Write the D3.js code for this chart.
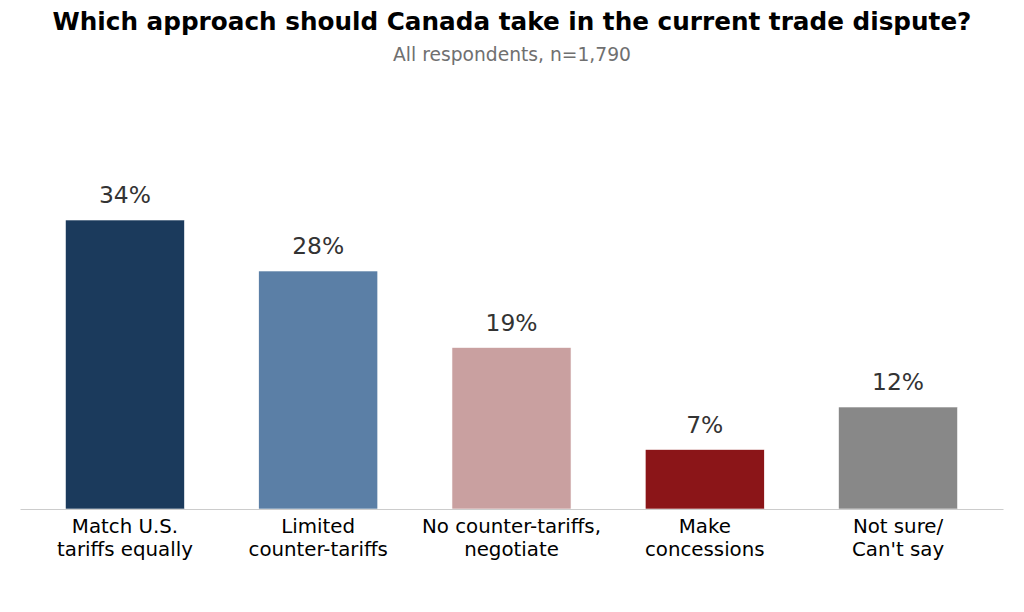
<!DOCTYPE html>
<html>
<head>
<meta charset="utf-8">
<script src="https://cdn.jsdelivr.net/npm/d3@7"></script>
<style>
  body { margin: 0; background: #fff; }
  text { font-family: "DejaVu Sans", sans-serif; }
</style>
</head>
<body>
<div id="chart"></div>
<script>
// data
const categories = ["Match U.S.\ntariffs equally", "Limited\ncounter-tariffs", "No counter-tariffs,\nnegotiate", "Make\nconcessions", "Not sure/\nCan't say"];
const values = [34, 28, 19, 7, 12];
const colors = ["#1b3a5c", "#5b7fa6", "#c9a0a0", "#8b1518", "#888888"];

const width = 1024, height = 612;
const baseline = 509;

const svg = d3.select("#chart").append("svg")
    .attr("width", width)
    .attr("height", height);

// title
svg.append("text")
    .attr("x", 512).attr("y", 30)
    .attr("text-anchor", "middle")
    .style("font-size", "24.7px")
    .style("font-weight", "bold")
    .attr("fill", "#000")
    .text("Which approach should Canada take in the current trade dispute?");

svg.append("text")
    .attr("x", 512).attr("y", 61)
    .attr("text-anchor", "middle")
    .style("font-size", "18.7px")
    .attr("fill", "#707070")
    .text("All respondents, n=1,790");

// scales
const x = d3.scalePoint()
    .domain(categories)
    .range([20, 1003])
    .padding(0.543);

const barW = x.step() * 0.616;

const y = d3.scaleLinear()
    .domain([0, 40])
    .range([baseline, baseline - 340]);

// bars
svg.selectAll("rect.bar")
    .data(values)
    .enter()
    .append("rect")
    .attr("class", "bar")
    .attr("x", (d, i) => x(categories[i]) - barW / 2)
    .attr("y", d => y(d))
    .attr("width", barW)
    .attr("height", d => baseline - y(d))
    .attr("fill", (d, i) => colors[i])
    .attr("stroke", "#fff")
    .attr("stroke-width", 0.6);

// value labels
svg.selectAll("text.val")
    .data(values)
    .enter()
    .append("text")
    .attr("class", "val")
    .attr("x", (d, i) => x(categories[i]))
    .attr("y", d => y(d) - 17)
    .attr("text-anchor", "middle")
    .style("font-size", "23.4px")
    .attr("fill", "#333")
    .text(d => d + "%");

// baseline axis
svg.append("g")
    .attr("transform", `translate(0,${baseline})`)
    .call(d3.axisBottom(x).tickSize(0).tickFormat(""))
    .call(g => g.select(".domain").attr("stroke", "#cccccc").attr("stroke-width", 1.2));

// category labels
const lab = svg.selectAll("text.cat")
    .data(categories)
    .enter()
    .append("text")
    .attr("class", "cat")
    .attr("text-anchor", "middle")
    .style("font-size", "19.8px")
    .attr("fill", "#000");

lab.selectAll("tspan")
    .data(d => d.split("\n").map(s => ({ s, c: d })))
    .enter()
    .append("tspan")
    .attr("x", d => x(d.c))
    .attr("y", (d, i) => 533 + i * 23.3)
    .text(d => d.s);
</script>
</body>
</html>
